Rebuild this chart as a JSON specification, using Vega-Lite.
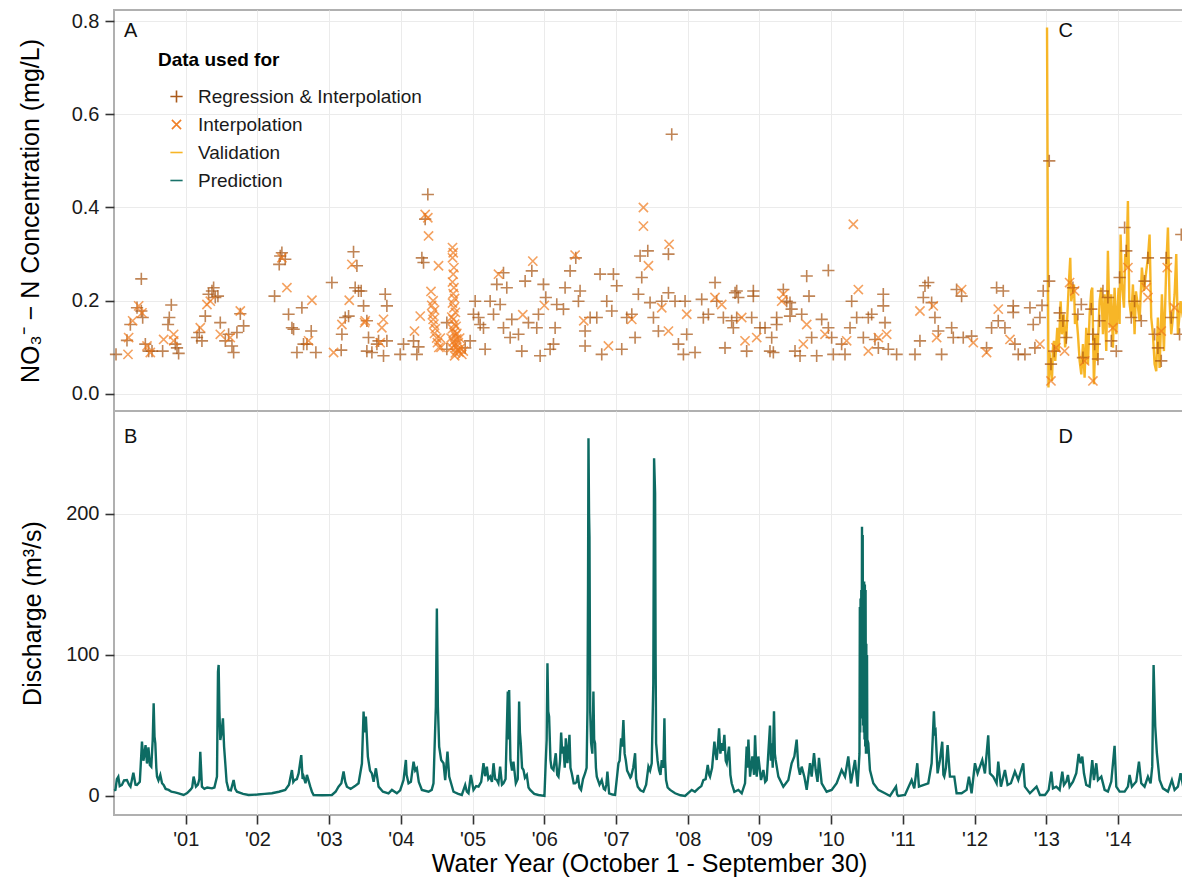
{
  "$schema": "https://vega.github.io/schema/vega-lite/v6.json",
  "padding": {"left": 16, "top": 9, "right": 0, "bottom": 5},
  "background": "white",
  "datasets": {
    "conc": [
      {"t":2000.028,"c":0.085,"k":"RI"},{"t":2000.195,"c":0.085,"k":"I"},{"t":2000.181,"c":0.115,"k":"RI"},{"t":2000.204,"c":0.121,"k":"I"},
      {"t":2000.228,"c":0.149,"k":"RI"},{"t":2000.260,"c":0.157,"k":"I"},{"t":2000.321,"c":0.185,"k":"RI"},{"t":2000.344,"c":0.189,"k":"I"},
      {"t":2000.381,"c":0.178,"k":"RI"},{"t":2000.390,"c":0.174,"k":"I"},{"t":2000.381,"c":0.247,"k":"RI"},{"t":2000.400,"c":0.164,"k":"RI"},
      {"t":2000.437,"c":0.107,"k":"RI"},{"t":2000.460,"c":0.103,"k":"I"},{"t":2000.483,"c":0.092,"k":"RI"},{"t":2000.506,"c":0.089,"k":"I"},
      {"t":2000.530,"c":0.092,"k":"RI"},{"t":2000.678,"c":0.092,"k":"RI"},{"t":2000.692,"c":0.117,"k":"I"},{"t":2000.753,"c":0.149,"k":"RI"},
      {"t":2000.771,"c":0.164,"k":"RI"},{"t":2000.799,"c":0.191,"k":"RI"},{"t":2000.832,"c":0.128,"k":"I"},{"t":2000.855,"c":0.107,"k":"RI"},
      {"t":2000.832,"c":0.114,"k":"I"},{"t":2000.901,"c":0.087,"k":"RI"},{"t":2000.878,"c":0.099,"k":"RI"},
      {"t":2001.157,"c":0.121,"k":"RI"},{"t":2001.189,"c":0.132,"k":"RI"},{"t":2001.203,"c":0.142,"k":"I"},{"t":2001.226,"c":0.114,"k":"RI"},
      {"t":2001.273,"c":0.167,"k":"RI"},{"t":2001.296,"c":0.192,"k":"I"},{"t":2001.319,"c":0.214,"k":"RI"},{"t":2001.366,"c":0.221,"k":"RI"},
      {"t":2001.389,"c":0.228,"k":"RI"},{"t":2001.412,"c":0.207,"k":"RI"},{"t":2001.449,"c":0.210,"k":"RI"},{"t":2001.343,"c":0.199,"k":"I"},
      {"t":2001.482,"c":0.153,"k":"RI"},{"t":2001.482,"c":0.128,"k":"I"},{"t":2001.552,"c":0.114,"k":"RI"},{"t":2001.598,"c":0.128,"k":"RI"},
      {"t":2001.621,"c":0.121,"k":"I"},{"t":2001.645,"c":0.103,"k":"RI"},{"t":2001.668,"c":0.089,"k":"RI"},{"t":2001.714,"c":0.132,"k":"RI"},
      {"t":2001.761,"c":0.172,"k":"RI"},{"t":2001.761,"c":0.178,"k":"I"},{"t":2001.807,"c":0.146,"k":"RI"},
      {"t":2002.239,"c":0.210,"k":"RI"},{"t":2002.318,"c":0.296,"k":"RI"},{"t":2002.341,"c":0.303,"k":"RI"},{"t":2002.388,"c":0.289,"k":"RI"},
      {"t":2002.341,"c":0.292,"k":"I"},{"t":2002.304,"c":0.278,"k":"RI"},{"t":2002.411,"c":0.228,"k":"I"},{"t":2002.434,"c":0.171,"k":"RI"},
      {"t":2002.481,"c":0.142,"k":"RI"},{"t":2002.504,"c":0.139,"k":"RI"},{"t":2002.620,"c":0.185,"k":"RI"},{"t":2002.760,"c":0.201,"k":"I"},
      {"t":2002.551,"c":0.089,"k":"RI"},{"t":2002.643,"c":0.107,"k":"RI"},{"t":2002.690,"c":0.107,"k":"RI"},{"t":2002.750,"c":0.135,"k":"RI"},
      {"t":2002.713,"c":0.114,"k":"I"},{"t":2002.815,"c":0.089,"k":"RI"},
      {"t":2003.038,"c":0.239,"k":"RI"},{"t":2003.062,"c":0.089,"k":"I"},{"t":2003.168,"c":0.094,"k":"RI"},{"t":2003.178,"c":0.128,"k":"RI"},
      {"t":2003.224,"c":0.164,"k":"RI"},{"t":2003.271,"c":0.167,"k":"RI"},{"t":2003.178,"c":0.149,"k":"I"},{"t":2003.280,"c":0.201,"k":"I"},
      {"t":2003.340,"c":0.305,"k":"RI"},{"t":2003.317,"c":0.278,"k":"I"},{"t":2003.387,"c":0.275,"k":"RI"},{"t":2003.363,"c":0.228,"k":"RI"},
      {"t":2003.410,"c":0.221,"k":"RI"},{"t":2003.447,"c":0.221,"k":"RI"},{"t":2003.480,"c":0.189,"k":"RI"},{"t":2003.503,"c":0.157,"k":"I"},
      {"t":2003.526,"c":0.157,"k":"RI"},{"t":2003.494,"c":0.153,"k":"I"},{"t":2003.549,"c":0.121,"k":"RI"},{"t":2003.526,"c":0.092,"k":"RI"},
      {"t":2003.596,"c":0.089,"k":"RI"},{"t":2003.666,"c":0.107,"k":"RI"},{"t":2003.689,"c":0.114,"k":"RI"},{"t":2003.712,"c":0.110,"k":"I"},
      {"t":2003.758,"c":0.082,"k":"RI"},{"t":2003.805,"c":0.114,"k":"RI"},{"t":2003.782,"c":0.214,"k":"RI"},{"t":2003.805,"c":0.189,"k":"RI"},
      {"t":2003.758,"c":0.160,"k":"I"},{"t":2003.735,"c":0.142,"k":"I"},
      {"t":2003.991,"c":0.085,"k":"RI"},{"t":2004.037,"c":0.107,"k":"RI"},{"t":2004.177,"c":0.114,"k":"RI"},{"t":2004.190,"c":0.135,"k":"I"},
      {"t":2004.223,"c":0.085,"k":"RI"},{"t":2004.246,"c":0.101,"k":"RI"},{"t":2004.293,"c":0.292,"k":"RI"},{"t":2004.316,"c":0.282,"k":"RI"},
      {"t":2004.339,"c":0.385,"k":"I"},{"t":2004.339,"c":0.375,"k":"RI"},{"t":2004.376,"c":0.378,"k":"I"},{"t":2004.386,"c":0.339,"k":"I"},
      {"t":2004.376,"c":0.428,"k":"RI"},{"t":2004.270,"c":0.167,"k":"I"},
      {"t":2004.525,"c":0.275,"k":"I"},{"t":2004.641,"c":0.153,"k":"RI"},{"t":2004.641,"c":0.096,"k":"RI"},
      {"t":2004.42,"c":0.22,"k":"I"},{"t":2004.43,"c":0.19,"k":"I"},{"t":2004.44,"c":0.17,"k":"I"},{"t":2004.45,"c":0.16,"k":"I"},
      {"t":2004.46,"c":0.15,"k":"I"},{"t":2004.47,"c":0.13,"k":"I"},{"t":2004.48,"c":0.14,"k":"I"},{"t":2004.50,"c":0.12,"k":"I"},
      {"t":2004.51,"c":0.11,"k":"I"},{"t":2004.53,"c":0.10,"k":"I"},{"t":2004.55,"c":0.12,"k":"I"},{"t":2004.56,"c":0.10,"k":"I"},
      {"t":2004.45,"c":0.20,"k":"I"},{"t":2004.47,"c":0.18,"k":"I"},
      {"t":2004.72,"c":0.314,"k":"I"},{"t":2004.73,"c":0.303,"k":"I"},{"t":2004.72,"c":0.292,"k":"I"},{"t":2004.74,"c":0.271,"k":"I"},
      {"t":2004.73,"c":0.257,"k":"I"},{"t":2004.72,"c":0.240,"k":"I"},{"t":2004.74,"c":0.228,"k":"I"},{"t":2004.73,"c":0.215,"k":"I"},
      {"t":2004.75,"c":0.205,"k":"I"},{"t":2004.72,"c":0.195,"k":"I"},{"t":2004.74,"c":0.185,"k":"I"},{"t":2004.76,"c":0.175,"k":"I"},
      {"t":2004.71,"c":0.165,"k":"I"},{"t":2004.73,"c":0.160,"k":"I"},{"t":2004.75,"c":0.150,"k":"I"},{"t":2004.77,"c":0.145,"k":"I"},
      {"t":2004.72,"c":0.140,"k":"I"},{"t":2004.74,"c":0.132,"k":"I"},{"t":2004.76,"c":0.125,"k":"I"},{"t":2004.78,"c":0.118,"k":"I"},
      {"t":2004.73,"c":0.112,"k":"I"},{"t":2004.75,"c":0.105,"k":"I"},{"t":2004.77,"c":0.100,"k":"I"},{"t":2004.79,"c":0.095,"k":"I"},
      {"t":2004.81,"c":0.090,"k":"I"},{"t":2004.76,"c":0.088,"k":"I"},{"t":2004.83,"c":0.098,"k":"I"},{"t":2004.80,"c":0.110,"k":"I"},
      {"t":2004.82,"c":0.120,"k":"I"},{"t":2004.78,"c":0.130,"k":"I"},{"t":2004.70,"c":0.120,"k":"I"},{"t":2004.71,"c":0.100,"k":"I"},
      {"t":2004.85,"c":0.085,"k":"I"},{"t":2004.87,"c":0.092,"k":"I"},{"t":2004.75,"c":0.082,"k":"I"},
      {"t":2004.897,"c":0.099,"k":"RI"},{"t":2004.966,"c":0.114,"k":"RI"},{"t":2005.036,"c":0.199,"k":"RI"},{"t":2005.013,"c":0.171,"k":"RI"},
      {"t":2005.083,"c":0.164,"k":"RI"},{"t":2005.152,"c":0.142,"k":"RI"},{"t":2005.175,"c":0.096,"k":"RI"},{"t":2005.106,"c":0.149,"k":"RI"},
      {"t":2005.245,"c":0.199,"k":"RI"},{"t":2005.292,"c":0.171,"k":"RI"},{"t":2005.361,"c":0.257,"k":"I"},{"t":2005.431,"c":0.260,"k":"RI"},
      {"t":2005.338,"c":0.235,"k":"RI"},{"t":2005.477,"c":0.228,"k":"RI"},{"t":2005.384,"c":0.192,"k":"RI"},{"t":2005.431,"c":0.142,"k":"RI"},
      {"t":2005.547,"c":0.160,"k":"RI"},{"t":2005.524,"c":0.121,"k":"RI"},{"t":2005.640,"c":0.128,"k":"RI"},{"t":2005.686,"c":0.092,"k":"RI"},
      {"t":2005.733,"c":0.242,"k":"RI"},{"t":2005.779,"c":0.153,"k":"RI"},{"t":2005.826,"c":0.264,"k":"RI"},{"t":2005.840,"c":0.285,"k":"I"},
      {"t":2005.895,"c":0.142,"k":"RI"},{"t":2005.919,"c":0.171,"k":"RI"},{"t":2005.988,"c":0.235,"k":"RI"},{"t":2006.021,"c":0.207,"k":"RI"},
      {"t":2005.942,"c":0.082,"k":"RI"},{"t":2006.081,"c":0.096,"k":"RI"},{"t":2006.128,"c":0.107,"k":"RI"},{"t":2006.151,"c":0.142,"k":"RI"},
      {"t":2006.174,"c":0.192,"k":"RI"},{"t":2006.267,"c":0.182,"k":"RI"},{"t":2006.290,"c":0.228,"k":"RI"},{"t":2006.360,"c":0.264,"k":"RI"},
      {"t":2006.430,"c":0.298,"k":"I"},{"t":2006.439,"c":0.292,"k":"RI"},{"t":2006.499,"c":0.221,"k":"RI"},{"t":2006.476,"c":0.199,"k":"RI"},
      {"t":2006.569,"c":0.135,"k":"RI"},{"t":2006.569,"c":0.103,"k":"RI"},{"t":2006.639,"c":0.164,"k":"RI"},{"t":2006.732,"c":0.164,"k":"RI"},
      {"t":2006.801,"c":0.085,"k":"RI"},{"t":2006.778,"c":0.257,"k":"RI"},{"t":2006.871,"c":0.199,"k":"RI"},{"t":2006.964,"c":0.257,"k":"RI"},
      {"t":2007.010,"c":0.232,"k":"RI"},{"t":2006.941,"c":0.178,"k":"RI"},{"t":2006.894,"c":0.103,"k":"I"},{"t":2007.080,"c":0.096,"k":"RI"},
      {"t":2007.150,"c":0.164,"k":"RI"},{"t":2007.220,"c":0.171,"k":"RI"},{"t":2007.266,"c":0.121,"k":"RI"},{"t":2007.312,"c":0.214,"k":"RI"},
      {"t":2007.359,"c":0.250,"k":"RI"},{"t":2007.336,"c":0.296,"k":"RI"},{"t":2007.443,"c":0.307,"k":"RI"},{"t":2007.382,"c":0.40,"k":"I"},
      {"t":2007.382,"c":0.36,"k":"I"},{"t":2007.452,"c":0.275,"k":"I"},{"t":2007.475,"c":0.196,"k":"RI"},{"t":2007.522,"c":0.164,"k":"RI"},
      {"t":2007.591,"c":0.135,"k":"RI"},{"t":2007.638,"c":0.199,"k":"RI"},{"t":2007.731,"c":0.217,"k":"RI"},{"t":2007.731,"c":0.30,"k":"RI"},
      {"t":2007.740,"c":0.321,"k":"I"},{"t":2007.777,"c":0.557,"k":"RI"},{"t":2007.823,"c":0.199,"k":"RI"},{"t":2007.870,"c":0.107,"k":"RI"},
      {"t":2007.963,"c":0.199,"k":"RI"},{"t":2007.986,"c":0.128,"k":"RI"},{"t":2007.940,"c":0.085,"k":"RI"},{"t":2008.102,"c":0.089,"k":"RI"},
      {"t":2008.195,"c":0.203,"k":"RI"},{"t":2008.218,"c":0.164,"k":"RI"},{"t":2008.381,"c":0.239,"k":"RI"},{"t":2008.404,"c":0.199,"k":"RI"},
      {"t":2008.288,"c":0.171,"k":"RI"},{"t":2008.497,"c":0.164,"k":"RI"},{"t":2008.520,"c":0.099,"k":"RI"},{"t":2008.660,"c":0.217,"k":"RI"},
      {"t":2008.636,"c":0.142,"k":"RI"},{"t":2008.474,"c":0.192,"k":"I"},{"t":2006.55,"c":0.157,"k":"I"},{"t":2007.22,"c":0.160,"k":"I"},
      {"t":2007.638,"c":0.185,"k":"I"},{"t":2007.731,"c":0.135,"k":"I"},{"t":2007.986,"c":0.171,"k":"I"},{"t":2008.38,"c":0.207,"k":"I"},
      {"t":2005.70,"c":0.170,"k":"I"},{"t":2006.00,"c":0.190,"k":"I"},
      {"t":2008.683,"c":0.221,"k":"RI"},{"t":2008.706,"c":0.207,"k":"RI"},{"t":2008.613,"c":0.157,"k":"RI"},{"t":2008.683,"c":0.164,"k":"RI"},
      {"t":2008.753,"c":0.164,"k":"I"},{"t":2008.822,"c":0.092,"k":"RI"},{"t":2008.799,"c":0.114,"k":"I"},{"t":2008.892,"c":0.164,"k":"RI"},
      {"t":2008.915,"c":0.221,"k":"RI"},{"t":2008.915,"c":0.210,"k":"RI"},{"t":2009.008,"c":0.142,"k":"RI"},{"t":2008.962,"c":0.121,"k":"I"},
      {"t":2009.078,"c":0.142,"k":"RI"},{"t":2009.147,"c":0.092,"k":"RI"},{"t":2009.171,"c":0.121,"k":"RI"},{"t":2009.194,"c":0.089,"k":"RI"},
      {"t":2009.240,"c":0.149,"k":"RI"},{"t":2009.240,"c":0.164,"k":"RI"},{"t":2009.333,"c":0.224,"k":"RI"},{"t":2009.333,"c":0.214,"k":"I"},
      {"t":2009.380,"c":0.199,"k":"RI"},{"t":2009.426,"c":0.196,"k":"RI"},{"t":2009.449,"c":0.182,"k":"RI"},{"t":2009.310,"c":0.199,"k":"I"},
      {"t":2009.426,"c":0.167,"k":"RI"},{"t":2009.496,"c":0.092,"k":"RI"},{"t":2009.566,"c":0.082,"k":"RI"},{"t":2009.589,"c":0.171,"k":"RI"},
      {"t":2009.612,"c":0.107,"k":"I"},{"t":2009.659,"c":0.253,"k":"RI"},{"t":2009.691,"c":0.210,"k":"RI"},{"t":2009.659,"c":0.149,"k":"I"},
      {"t":2009.728,"c":0.121,"k":"RI"},{"t":2009.798,"c":0.082,"k":"RI"},{"t":2009.868,"c":0.160,"k":"RI"},{"t":2009.961,"c":0.265,"k":"RI"},
      {"t":2009.961,"c":0.142,"k":"RI"},{"t":2009.914,"c":0.128,"k":"I"},{"t":2010.007,"c":0.121,"k":"RI"},{"t":2010.030,"c":0.085,"k":"RI"},
      {"t":2010.146,"c":0.107,"k":"RI"},{"t":2010.193,"c":0.085,"k":"RI"},{"t":2010.216,"c":0.114,"k":"I"},{"t":2010.263,"c":0.142,"k":"RI"},
      {"t":2010.309,"c":0.364,"k":"I"},{"t":2010.286,"c":0.199,"k":"RI"},{"t":2010.379,"c":0.224,"k":"I"},{"t":2010.356,"c":0.164,"k":"RI"},
      {"t":2010.449,"c":0.121,"k":"RI"},{"t":2010.518,"c":0.164,"k":"RI"},{"t":2010.518,"c":0.092,"k":"I"},{"t":2010.565,"c":0.171,"k":"RI"},
      {"t":2010.611,"c":0.117,"k":"RI"},{"t":2010.658,"c":0.099,"k":"RI"},{"t":2010.658,"c":0.121,"k":"I"},{"t":2010.727,"c":0.214,"k":"RI"},
      {"t":2010.727,"c":0.189,"k":"RI"},{"t":2010.751,"c":0.153,"k":"RI"},{"t":2010.774,"c":0.128,"k":"I"},{"t":2010.797,"c":0.096,"k":"RI"},
      {"t":2010.913,"c":0.085,"k":"RI"},{"t":2011.169,"c":0.085,"k":"RI"},{"t":2011.238,"c":0.114,"k":"RI"},{"t":2011.238,"c":0.178,"k":"I"},
      {"t":2011.308,"c":0.232,"k":"RI"},{"t":2011.354,"c":0.239,"k":"RI"},{"t":2011.285,"c":0.207,"k":"RI"},{"t":2011.401,"c":0.196,"k":"RI"},
      {"t":2011.424,"c":0.189,"k":"I"},{"t":2011.447,"c":0.164,"k":"RI"},{"t":2011.494,"c":0.135,"k":"RI"},{"t":2011.471,"c":0.121,"k":"I"},
      {"t":2011.540,"c":0.085,"k":"RI"},{"t":2011.680,"c":0.142,"k":"RI"},{"t":2011.703,"c":0.121,"k":"RI"},{"t":2011.749,"c":0.224,"k":"RI"},
      {"t":2011.819,"c":0.224,"k":"I"},{"t":2011.819,"c":0.210,"k":"RI"},{"t":2011.842,"c":0.121,"k":"RI"},{"t":2011.958,"c":0.124,"k":"RI"},
      {"t":2011.982,"c":0.110,"k":"I"},{"t":2012.167,"c":0.099,"k":"RI"},{"t":2012.167,"c":0.089,"k":"I"},{"t":2012.307,"c":0.228,"k":"RI"},
      {"t":2012.400,"c":0.221,"k":"RI"},{"t":2012.330,"c":0.182,"k":"I"},{"t":2012.237,"c":0.142,"k":"RI"},{"t":2012.330,"c":0.157,"k":"RI"},
      {"t":2012.423,"c":0.142,"k":"RI"},{"t":2012.539,"c":0.189,"k":"RI"},{"t":2012.539,"c":0.175,"k":"RI"},{"t":2012.493,"c":0.117,"k":"I"},
      {"t":2012.562,"c":0.107,"k":"RI"},{"t":2012.609,"c":0.085,"k":"RI"},{"t":2012.702,"c":0.085,"k":"RI"},{"t":2012.772,"c":0.185,"k":"RI"},
      {"t":2012.818,"c":0.149,"k":"RI"},{"t":2012.911,"c":0.164,"k":"RI"},{"t":2012.841,"c":0.099,"k":"RI"},{"t":2012.911,"c":0.107,"k":"I"},
      {"t":2012.957,"c":0.221,"k":"RI"},{"t":2012.94,"c":0.190,"k":"RI"},
      {"t":2013.010,"c":0.786,"k":"V"},{"t":2013.030,"c":0.014,"k":"V"},{"t":2013.045,"c":0.090,"k":"V"},{"t":2013.060,"c":0.056,"k":"V"},
      {"t":2013.079,"c":0.028,"k":"V"},{"t":2013.093,"c":0.100,"k":"V"},{"t":2013.107,"c":0.114,"k":"V"},{"t":2013.125,"c":0.071,"k":"V"},
      {"t":2013.153,"c":0.142,"k":"V"},{"t":2013.172,"c":0.092,"k":"V"},{"t":2013.200,"c":0.199,"k":"V"},{"t":2013.218,"c":0.128,"k":"V"},
      {"t":2013.246,"c":0.171,"k":"V"},{"t":2013.262,"c":0.100,"k":"V"},{"t":2013.279,"c":0.121,"k":"V"},{"t":2013.311,"c":0.228,"k":"V"},
      {"t":2013.334,"c":0.292,"k":"V"},{"t":2013.348,"c":0.199,"k":"V"},{"t":2013.386,"c":0.235,"k":"V"},{"t":2013.400,"c":0.150,"k":"V"},
      {"t":2013.418,"c":0.171,"k":"V"},{"t":2013.441,"c":0.128,"k":"V"},{"t":2013.465,"c":0.071,"k":"V"},{"t":2013.488,"c":0.042,"k":"V"},
      {"t":2013.511,"c":0.107,"k":"V"},{"t":2013.534,"c":0.035,"k":"V"},{"t":2013.557,"c":0.142,"k":"V"},{"t":2013.581,"c":0.064,"k":"V"},
      {"t":2013.604,"c":0.171,"k":"V"},{"t":2013.627,"c":0.221,"k":"V"},{"t":2013.641,"c":0.228,"k":"V"},{"t":2013.664,"c":0.021,"k":"V"},
      {"t":2013.688,"c":0.128,"k":"V"},{"t":2013.711,"c":0.071,"k":"V"},{"t":2013.743,"c":0.199,"k":"V"},{"t":2013.767,"c":0.228,"k":"V"},
      {"t":2013.790,"c":0.128,"k":"V"},{"t":2013.813,"c":0.214,"k":"V"},{"t":2013.836,"c":0.092,"k":"V"},{"t":2013.859,"c":0.307,"k":"V"},
      {"t":2013.883,"c":0.142,"k":"V"},{"t":2013.906,"c":0.214,"k":"V"},{"t":2013.929,"c":0.099,"k":"V"},{"t":2013.952,"c":0.228,"k":"V"},
      {"t":2013.976,"c":0.128,"k":"V"},{"t":2014.008,"c":0.228,"k":"V"},{"t":2014.022,"c":0.150,"k":"V"},{"t":2014.036,"c":0.342,"k":"V"},
      {"t":2014.055,"c":0.235,"k":"V"},{"t":2014.083,"c":0.185,"k":"V"},{"t":2014.100,"c":0.300,"k":"V"},{"t":2014.115,"c":0.271,"k":"V"},
      {"t":2014.138,"c":0.414,"k":"V"},{"t":2014.157,"c":0.199,"k":"V"},{"t":2014.185,"c":0.164,"k":"V"},{"t":2014.208,"c":0.235,"k":"V"},
      {"t":2014.231,"c":0.128,"k":"V"},{"t":2014.250,"c":0.220,"k":"V"},{"t":2014.268,"c":0.199,"k":"V"},{"t":2014.301,"c":0.157,"k":"V"},
      {"t":2014.333,"c":0.271,"k":"V"},{"t":2014.361,"c":0.221,"k":"V"},{"t":2014.394,"c":0.264,"k":"V"},{"t":2014.417,"c":0.292,"k":"V"},
      {"t":2014.440,"c":0.342,"k":"V"},{"t":2014.463,"c":0.164,"k":"V"},{"t":2014.487,"c":0.128,"k":"V"},{"t":2014.510,"c":0.064,"k":"V"},
      {"t":2014.533,"c":0.049,"k":"V"},{"t":2014.556,"c":0.164,"k":"V"},{"t":2014.580,"c":0.056,"k":"V"},{"t":2014.612,"c":0.214,"k":"V"},
      {"t":2014.640,"c":0.092,"k":"V"},{"t":2014.672,"c":0.271,"k":"V"},{"t":2014.696,"c":0.357,"k":"V"},{"t":2014.719,"c":0.199,"k":"V"},
      {"t":2014.742,"c":0.128,"k":"V"},{"t":2014.765,"c":0.164,"k":"V"},{"t":2014.789,"c":0.214,"k":"V"},{"t":2014.812,"c":0.300,"k":"V"},
      {"t":2014.835,"c":0.128,"k":"V"},{"t":2014.872,"c":0.199,"k":"V"},{"t":2014.905,"c":0.164,"k":"V"},
      {"t":2013.041,"c":0.50,"k":"RI"},{"t":2013.041,"c":0.242,"k":"RI"},{"t":2013.065,"c":0.064,"k":"RI"},{"t":2013.065,"c":0.028,"k":"I"},
      {"t":2013.111,"c":0.092,"k":"RI"},{"t":2013.135,"c":0.099,"k":"I"},{"t":2013.186,"c":0.174,"k":"RI"},{"t":2013.232,"c":0.157,"k":"RI"},
      {"t":2013.255,"c":0.092,"k":"I"},{"t":2013.279,"c":0.121,"k":"RI"},{"t":2013.325,"c":0.239,"k":"I"},{"t":2013.371,"c":0.228,"k":"RI"},
      {"t":2013.441,"c":0.171,"k":"RI"},{"t":2013.395,"c":0.221,"k":"I"},{"t":2013.488,"c":0.192,"k":"RI"},{"t":2013.511,"c":0.078,"k":"RI"},
      {"t":2013.534,"c":0.071,"k":"I"},{"t":2013.627,"c":0.182,"k":"RI"},{"t":2013.650,"c":0.128,"k":"RI"},{"t":2013.674,"c":0.107,"k":"RI"},
      {"t":2013.720,"c":0.075,"k":"RI"},{"t":2013.650,"c":0.028,"k":"I"},{"t":2013.743,"c":0.157,"k":"RI"},{"t":2013.790,"c":0.221,"k":"RI"},
      {"t":2013.859,"c":0.207,"k":"RI"},{"t":2013.906,"c":0.114,"k":"RI"},{"t":2013.929,"c":0.142,"k":"I"},{"t":2013.976,"c":0.092,"k":"RI"},
      {"t":2014.022,"c":0.250,"k":"RI"},{"t":2014.092,"c":0.357,"k":"RI"},{"t":2014.115,"c":0.307,"k":"RI"},{"t":2014.138,"c":0.271,"k":"I"},
      {"t":2014.185,"c":0.164,"k":"RI"},{"t":2014.231,"c":0.199,"k":"RI"},{"t":2014.324,"c":0.157,"k":"RI"},{"t":2014.370,"c":0.242,"k":"RI"},
      {"t":2014.417,"c":0.292,"k":"RI"},{"t":2014.394,"c":0.228,"k":"I"},{"t":2014.417,"c":0.207,"k":"I"},{"t":2014.510,"c":0.128,"k":"RI"},
      {"t":2014.556,"c":0.099,"k":"RI"},{"t":2014.603,"c":0.071,"k":"RI"},{"t":2014.603,"c":0.135,"k":"I"},{"t":2014.672,"c":0.292,"k":"RI"},
      {"t":2014.686,"c":0.271,"k":"I"},{"t":2014.742,"c":0.164,"k":"RI"},{"t":2014.789,"c":0.185,"k":"I"},{"t":2014.858,"c":0.128,"k":"RI"},
      {"t":2014.882,"c":0.342,"k":"RI"}
    ],
    "flow": [
      {"t":2000.00,"q":4},{"t":2000.02,"q":4.3},{"t":2000.04,"q":12},{"t":2000.06,"q":13.7},{"t":2000.08,"q":7},{"t":2000.11,"q":7.8},
      {"t":2000.14,"q":11},{"t":2000.18,"q":11.3},{"t":2000.21,"q":8},{"t":2000.23,"q":6.6},{"t":2000.27,"q":16.5},{"t":2000.30,"q":8},
      {"t":2000.32,"q":7.8},{"t":2000.36,"q":10},{"t":2000.39,"q":38.5},{"t":2000.41,"q":25},{"t":2000.42,"q":27.9},{"t":2000.44,"q":36},
      {"t":2000.46,"q":23},{"t":2000.48,"q":34.5},{"t":2000.50,"q":22},{"t":2000.52,"q":20.8},{"t":2000.54,"q":40},{"t":2000.553,"q":65.7},
      {"t":2000.565,"q":42},{"t":2000.576,"q":37.4},{"t":2000.59,"q":20},{"t":2000.60,"q":13.7},{"t":2000.62,"q":11},{"t":2000.646,"q":14.9},
      {"t":2000.67,"q":9},{"t":2000.692,"q":7.8},{"t":2000.72,"q":5},{"t":2000.762,"q":4.3},{"t":2000.80,"q":3},{"t":2000.85,"q":2.5},
      {"t":2000.901,"q":1.9},{"t":2000.971,"q":0.7},{"t":2001.02,"q":2},{"t":2001.064,"q":4.3},{"t":2001.09,"q":6},{"t":2001.11,"q":13.7},
      {"t":2001.143,"q":6.6},{"t":2001.17,"q":8},{"t":2001.19,"q":12},{"t":2001.203,"q":31.4},{"t":2001.226,"q":6.6},{"t":2001.26,"q":5},
      {"t":2001.30,"q":6},{"t":2001.366,"q":5.4},{"t":2001.40,"q":6},{"t":2001.436,"q":13.7},{"t":2001.45,"q":88},{"t":2001.459,"q":92.9},
      {"t":2001.47,"q":60},{"t":2001.482,"q":39.7},{"t":2001.50,"q":45},{"t":2001.519,"q":55},{"t":2001.535,"q":35},{"t":2001.552,"q":23},
      {"t":2001.57,"q":10},{"t":2001.598,"q":4.3},{"t":2001.63,"q":4},{"t":2001.668,"q":11.3},{"t":2001.69,"q":5},{"t":2001.714,"q":3},
      {"t":2001.80,"q":1.5},{"t":2001.877,"q":0.7},{"t":2002.00,"q":1.0},{"t":2002.10,"q":1.5},{"t":2002.202,"q":1.9},{"t":2002.30,"q":3},
      {"t":2002.388,"q":4.3},{"t":2002.44,"q":8},{"t":2002.481,"q":18.4},{"t":2002.50,"q":10},{"t":2002.518,"q":11.3},{"t":2002.55,"q":12},
      {"t":2002.574,"q":16},{"t":2002.611,"q":29},{"t":2002.63,"q":12},{"t":2002.644,"q":13.7},{"t":2002.67,"q":9},{"t":2002.69,"q":14.9},
      {"t":2002.737,"q":6.6},{"t":2002.76,"q":3},{"t":2002.783,"q":0.7},{"t":2002.90,"q":0.5},{"t":2003.038,"q":0.7},{"t":2003.09,"q":3},
      {"t":2003.131,"q":6.6},{"t":2003.17,"q":9},{"t":2003.201,"q":17.3},{"t":2003.225,"q":10},{"t":2003.248,"q":6.6},{"t":2003.30,"q":5},
      {"t":2003.36,"q":7},{"t":2003.41,"q":9},{"t":2003.457,"q":23},{"t":2003.48,"q":59.8},{"t":2003.495,"q":45},{"t":2003.512,"q":56.3},
      {"t":2003.54,"q":27.9},{"t":2003.57,"q":18},{"t":2003.596,"q":16},{"t":2003.62,"q":10},{"t":2003.652,"q":19.6},{"t":2003.689,"q":6.6},
      {"t":2003.75,"q":3},{"t":2003.828,"q":1.9},{"t":2003.875,"q":4.3},{"t":2003.944,"q":1.9},{"t":2003.99,"q":4},{"t":2004.037,"q":11.3},
      {"t":2004.07,"q":25.5},{"t":2004.08,"q":15},{"t":2004.107,"q":9},{"t":2004.14,"q":10},{"t":2004.177,"q":24.3},{"t":2004.20,"q":18},
      {"t":2004.223,"q":19.6},{"t":2004.25,"q":10},{"t":2004.293,"q":4.3},{"t":2004.386,"q":3},{"t":2004.43,"q":4.3},{"t":2004.455,"q":9},
      {"t":2004.488,"q":63.4},{"t":2004.502,"q":133},{"t":2004.516,"q":63.4},{"t":2004.534,"q":35},{"t":2004.562,"q":25.5},{"t":2004.595,"q":23.2},
      {"t":2004.618,"q":11.3},{"t":2004.650,"q":31.4},{"t":2004.674,"q":13.7},{"t":2004.734,"q":3},{"t":2004.80,"q":1.5},{"t":2004.850,"q":0.7},
      {"t":2004.897,"q":7.8},{"t":2004.92,"q":3},{"t":2004.943,"q":1.9},{"t":2004.976,"q":14.9},{"t":2005.013,"q":4.3},{"t":2005.05,"q":7},
      {"t":2005.083,"q":6.6},{"t":2005.12,"q":10},{"t":2005.152,"q":23.2},{"t":2005.175,"q":14},{"t":2005.199,"q":20.8},{"t":2005.22,"q":12},
      {"t":2005.245,"q":13.7},{"t":2005.27,"q":10},{"t":2005.292,"q":23.2},{"t":2005.315,"q":12},{"t":2005.338,"q":11.3},{"t":2005.36,"q":9},
      {"t":2005.384,"q":20.8},{"t":2005.41,"q":8},{"t":2005.431,"q":9},{"t":2005.46,"q":12},{"t":2005.491,"q":74},{"t":2005.50,"q":40},
      {"t":2005.510,"q":75.2},{"t":2005.528,"q":25.5},{"t":2005.550,"q":18},{"t":2005.570,"q":24.3},{"t":2005.603,"q":9},{"t":2005.63,"q":12},
      {"t":2005.649,"q":66.9},{"t":2005.66,"q":45},{"t":2005.672,"q":37.4},{"t":2005.690,"q":20},{"t":2005.710,"q":18.4},{"t":2005.73,"q":13},
      {"t":2005.756,"q":14.9},{"t":2005.78,"q":6},{"t":2005.803,"q":4.3},{"t":2005.86,"q":1.5},{"t":2005.919,"q":0.7},{"t":2006.002,"q":0},
      {"t":2006.021,"q":25.5},{"t":2006.033,"q":40},{"t":2006.044,"q":94.1},{"t":2006.055,"q":60},{"t":2006.067,"q":56.3},{"t":2006.086,"q":25.5},
      {"t":2006.10,"q":20},{"t":2006.128,"q":18.4},{"t":2006.145,"q":25},{"t":2006.160,"q":30.3},{"t":2006.18,"q":15},{"t":2006.198,"q":13.7},
      {"t":2006.22,"q":25},{"t":2006.235,"q":44.9},{"t":2006.25,"q":30},{"t":2006.267,"q":35},{"t":2006.285,"q":20},{"t":2006.300,"q":40.9},
      {"t":2006.323,"q":23.2},{"t":2006.351,"q":43.3},{"t":2006.365,"q":20},{"t":2006.383,"q":16.1},{"t":2006.41,"q":9},{"t":2006.430,"q":9},
      {"t":2006.450,"q":10},{"t":2006.467,"q":14.9},{"t":2006.49,"q":6},{"t":2006.513,"q":4.3},{"t":2006.54,"q":12},{"t":2006.569,"q":16.1},
      {"t":2006.59,"q":20},{"t":2006.602,"q":61},{"t":2006.610,"q":150},{"t":2006.616,"q":253.7},{"t":2006.624,"q":200},{"t":2006.630,"q":184},
      {"t":2006.640,"q":60},{"t":2006.653,"q":37.4},{"t":2006.670,"q":30},{"t":2006.685,"q":74},{"t":2006.695,"q":40},{"t":2006.708,"q":37.4},
      {"t":2006.720,"q":20},{"t":2006.732,"q":13.7},{"t":2006.77,"q":8},{"t":2006.801,"q":11.3},{"t":2006.83,"q":5},{"t":2006.848,"q":4.3},
      {"t":2006.865,"q":8},{"t":2006.880,"q":17.3},{"t":2006.904,"q":1.9},{"t":2006.95,"q":1},{"t":2006.987,"q":0.7},{"t":2007.034,"q":23.2},
      {"t":2007.05,"q":25},{"t":2007.071,"q":40.9},{"t":2007.085,"q":35},{"t":2007.103,"q":53.9},{"t":2007.12,"q":30},{"t":2007.136,"q":25.5},
      {"t":2007.155,"q":18},{"t":2007.173,"q":16.1},{"t":2007.20,"q":13},{"t":2007.210,"q":13.7},{"t":2007.24,"q":20},{"t":2007.266,"q":30.3},
      {"t":2007.28,"q":12},{"t":2007.303,"q":6.6},{"t":2007.34,"q":4},{"t":2007.382,"q":3},{"t":2007.42,"q":8},{"t":2007.452,"q":20.8},
      {"t":2007.475,"q":18},{"t":2007.498,"q":23.2},{"t":2007.52,"q":80},{"t":2007.531,"q":239.5},{"t":2007.545,"q":214.7},{"t":2007.552,"q":100},
      {"t":2007.559,"q":37.4},{"t":2007.58,"q":25},{"t":2007.600,"q":18.4},{"t":2007.62,"q":15},{"t":2007.638,"q":25.5},{"t":2007.66,"q":20},
      {"t":2007.675,"q":55.1},{"t":2007.685,"q":25},{"t":2007.698,"q":11.3},{"t":2007.72,"q":6},{"t":2007.754,"q":4.3},{"t":2007.824,"q":1.9},
      {"t":2007.90,"q":0.5},{"t":2007.963,"q":0},{"t":2008.056,"q":4.3},{"t":2008.10,"q":3},{"t":2008.149,"q":5.4},{"t":2008.19,"q":7},
      {"t":2008.218,"q":11.3},{"t":2008.25,"q":12},{"t":2008.279,"q":22},{"t":2008.30,"q":15},{"t":2008.311,"q":13.7},{"t":2008.34,"q":20},
      {"t":2008.372,"q":38.5},{"t":2008.39,"q":30},{"t":2008.404,"q":25.5},{"t":2008.42,"q":35},{"t":2008.437,"q":48},{"t":2008.455,"q":30},
      {"t":2008.474,"q":37.4},{"t":2008.49,"q":32},{"t":2008.511,"q":43.3},{"t":2008.53,"q":25},{"t":2008.544,"q":23.2},{"t":2008.576,"q":35},
      {"t":2008.595,"q":15},{"t":2008.613,"q":9},{"t":2008.65,"q":3},{"t":2008.706,"q":4.3},{"t":2008.753,"q":1.9},{"t":2008.799,"q":9},
      {"t":2008.822,"q":35},{"t":2008.834,"q":20},{"t":2008.846,"q":40},{"t":2008.869,"q":13.7},{"t":2008.901,"q":28},{"t":2008.925,"q":15},
      {"t":2008.939,"q":43},{"t":2008.962,"q":13.7},{"t":2008.985,"q":28},{"t":2009.022,"q":11.3},{"t":2009.055,"q":18.4},{"t":2009.080,"q":10},
      {"t":2009.101,"q":11.3},{"t":2009.147,"q":50},{"t":2009.160,"q":25},{"t":2009.171,"q":37.4},{"t":2009.185,"q":20},{"t":2009.203,"q":60},
      {"t":2009.215,"q":30},{"t":2009.226,"q":25.5},{"t":2009.264,"q":13.7},{"t":2009.333,"q":6.6},{"t":2009.403,"q":11.3},{"t":2009.449,"q":23.2},
      {"t":2009.487,"q":28},{"t":2009.519,"q":40},{"t":2009.542,"q":20.8},{"t":2009.565,"q":15},{"t":2009.589,"q":20.8},{"t":2009.626,"q":13.7},
      {"t":2009.659,"q":4.3},{"t":2009.705,"q":23.2},{"t":2009.728,"q":13.7},{"t":2009.761,"q":30.3},{"t":2009.784,"q":18.4},{"t":2009.810,"q":10},
      {"t":2009.830,"q":27},{"t":2009.868,"q":9},{"t":2009.937,"q":3},{"t":2010.007,"q":4.3},{"t":2010.077,"q":9},{"t":2010.146,"q":18.4},
      {"t":2010.193,"q":13.7},{"t":2010.239,"q":28},{"t":2010.276,"q":9},{"t":2010.332,"q":25.5},{"t":2010.369,"q":6.6},{"t":2010.395,"q":30},
      {"t":2010.400,"q":134},{"t":2010.405,"q":45},{"t":2010.410,"q":140},{"t":2010.415,"q":55},{"t":2010.420,"q":146},{"t":2010.425,"q":70},
      {"t":2010.430,"q":191},{"t":2010.435,"q":60},{"t":2010.440,"q":185},{"t":2010.445,"q":50},{"t":2010.450,"q":150},{"t":2010.455,"q":45},
      {"t":2010.460,"q":152},{"t":2010.465,"q":40},{"t":2010.470,"q":150},{"t":2010.475,"q":35},{"t":2010.480,"q":146},{"t":2010.485,"q":30},
      {"t":2010.490,"q":108},{"t":2010.495,"q":30},{"t":2010.500,"q":100},{"t":2010.504,"q":40},{"t":2010.518,"q":37.4},{"t":2010.541,"q":18.4},
      {"t":2010.588,"q":9},{"t":2010.657,"q":4.3},{"t":2010.750,"q":1.9},{"t":2010.820,"q":0},{"t":2010.904,"q":6.6},{"t":2010.920,"q":1},
      {"t":2010.936,"q":0},{"t":2011.029,"q":0.7},{"t":2011.122,"q":11.3},{"t":2011.159,"q":5.4},{"t":2011.201,"q":23.2},{"t":2011.224,"q":6.6},
      {"t":2011.354,"q":9},{"t":2011.401,"q":23.2},{"t":2011.433,"q":60},{"t":2011.445,"q":45},{"t":2011.456,"q":46},{"t":2011.484,"q":16},
      {"t":2011.517,"q":25.5},{"t":2011.549,"q":38.5},{"t":2011.565,"q":15},{"t":2011.577,"q":13.7},{"t":2011.600,"q":20},{"t":2011.624,"q":36},
      {"t":2011.656,"q":13.7},{"t":2011.717,"q":13.7},{"t":2011.749,"q":1.9},{"t":2011.819,"q":1.9},{"t":2011.889,"q":4.3},{"t":2011.921,"q":13.7},
      {"t":2011.958,"q":1.9},{"t":2012.005,"q":23.2},{"t":2012.042,"q":16},{"t":2012.074,"q":20.8},{"t":2012.107,"q":25.5},{"t":2012.144,"q":16},
      {"t":2012.190,"q":43},{"t":2012.214,"q":16},{"t":2012.260,"q":13.7},{"t":2012.307,"q":9},{"t":2012.330,"q":24.3},{"t":2012.367,"q":6.6},
      {"t":2012.423,"q":18.4},{"t":2012.460,"q":7.8},{"t":2012.506,"q":9},{"t":2012.562,"q":17.3},{"t":2012.609,"q":11.3},{"t":2012.678,"q":23.2},
      {"t":2012.701,"q":6.6},{"t":2012.771,"q":1.9},{"t":2012.864,"q":6.6},{"t":2012.911,"q":0.7},{"t":2012.980,"q":0.7},
      {"t":2013.000,"q":1.9},{"t":2013.033,"q":4.3},{"t":2013.070,"q":17.3},{"t":2013.093,"q":5.4},{"t":2013.139,"q":6.6},{"t":2013.186,"q":4.3},
      {"t":2013.223,"q":17.3},{"t":2013.246,"q":7.8},{"t":2013.279,"q":10.2},{"t":2013.302,"q":14.9},{"t":2013.325,"q":6.6},{"t":2013.372,"q":10.2},
      {"t":2013.418,"q":16.1},{"t":2013.451,"q":29.8},{"t":2013.478,"q":23.2},{"t":2013.502,"q":27.9},{"t":2013.525,"q":16.1},{"t":2013.557,"q":7.8},
      {"t":2013.604,"q":6.6},{"t":2013.641,"q":25.5},{"t":2013.664,"q":11.3},{"t":2013.697,"q":23.2},{"t":2013.720,"q":11.3},{"t":2013.767,"q":13.7},
      {"t":2013.813,"q":4.3},{"t":2013.859,"q":3.1},{"t":2013.906,"q":10.2},{"t":2013.952,"q":35.5},{"t":2013.976,"q":6.6},{"t":2014.022,"q":3.1},
      {"t":2014.092,"q":3.1},{"t":2014.138,"q":6.6},{"t":2014.161,"q":14.9},{"t":2014.194,"q":6.6},{"t":2014.254,"q":10.2},{"t":2014.292,"q":24.3},
      {"t":2014.324,"q":9},{"t":2014.370,"q":6.6},{"t":2014.417,"q":13.7},{"t":2014.454,"q":9},{"t":2014.477,"q":20.8},{"t":2014.496,"q":92.9},
      {"t":2014.519,"q":49.2},{"t":2014.542,"q":30.3},{"t":2014.580,"q":11.3},{"t":2014.626,"q":5.4},{"t":2014.696,"q":3.1},{"t":2014.751,"q":11.3},
      {"t":2014.789,"q":4.3},{"t":2014.835,"q":6.6},{"t":2014.872,"q":16.1},{"t":2014.909,"q":6.6},{"t":2014.92,"q":8}
    ],
    "labsTop": [{"t":2000.14,"c":0.7785,"lab":"A"},{"t":2013.17,"c":0.7785,"lab":"C"}],
    "labsBot": [{"t":2000.14,"q":254.6,"lab":"B"},{"t":2013.17,"q":254.6,"lab":"D"}]
  },
  "vconcat": [
    {
      "width": 1070,
      "height": 401,
      "layer": [
        {
          "data": {"name": "conc"},
          "transform": [{"filter": "datum.k == 'V'"}],
          "mark": {"type": "line", "strokeWidth": 2.4, "opacity": 0.95},
          "encoding": {
            "x": {"field": "t", "type": "quantitative", "scale": {"domain": [2000, 2014.92], "nice": false, "zero": false},
                  "axis": {"values": [2001,2002,2003,2004,2005,2006,2007,2008,2009,2010,2011,2012,2013,2014], "labels": false, "ticks": false, "domain": false, "title": null, "grid": true}},
            "y": {"field": "c", "type": "quantitative", "scale": {"domain": [-0.0365, 0.8236], "nice": false, "zero": false},
                  "axis": {"values": [0, 0.2, 0.4, 0.6, 0.8], "format": ".1f", "title": "NO₃⁻ − N Concentration (mg/L)", "titleX": -84, "titleBaseline": "middle"}},
            "color": {"field": "k", "type": "nominal", "title": "Data used for",
                      "scale": {"domain": ["RI", "I", "V", "P"], "range": ["#a6520f", "#f07a1c", "#f7b21b", "#0d6b63"]}}
          }
        },
        {
          "data": {"name": "conc"},
          "transform": [{"filter": "datum.k == 'RI'"}],
          "mark": {"type": "point", "filled": false, "strokeWidth": 1.6, "size": 150},
          "encoding": {
            "x": {"field": "t", "type": "quantitative"},
            "y": {"field": "c", "type": "quantitative"},
            "color": {"field": "k", "type": "nominal", "title": "Data used for",
                      "legend": {"labelExpr": "datum.label == 'RI' ? 'Regression & Interpolation' : datum.label == 'I' ? 'Interpolation' : datum.label == 'V' ? 'Validation' : 'Prediction'",
                                 "titleFontSize": 19, "labelFontSize": 19, "labelLimit": 0}},
            "shape": {"field": "k", "type": "nominal", "title": "Data used for",
                      "scale": {"domain": ["RI", "I", "V", "P"], "range": ["M-1,0L1,0M0,-1L0,1", "M-0.75,-0.75L0.75,0.75M-0.75,0.75L0.75,-0.75", "stroke", "stroke"]},
                      "legend": {"labelExpr": "datum.label == 'RI' ? 'Regression & Interpolation' : datum.label == 'I' ? 'Interpolation' : datum.label == 'V' ? 'Validation' : 'Prediction'",
                                 "titleFontSize": 19, "labelFontSize": 19, "labelLimit": 0}}
          }
        },
        {
          "data": {"name": "conc"},
          "transform": [{"filter": "datum.k == 'I'"}],
          "mark": {"type": "point", "filled": false, "strokeWidth": 1.6, "size": 150},
          "encoding": {
            "x": {"field": "t", "type": "quantitative"},
            "y": {"field": "c", "type": "quantitative"},
            "color": {"field": "k", "type": "nominal", "title": "Data used for"},
            "shape": {"field": "k", "type": "nominal", "title": "Data used for"}
          }
        },
        {
          "mark": {"type": "rule", "color": "#b0b0b0", "strokeWidth": 2},
          "encoding": {"x": {"datum": 2013}}
        },
        {
          "data": {"name": "labsTop"},
          "mark": {"type": "text", "align": "left", "baseline": "middle", "fontSize": 20, "font": "Liberation Sans", "color": "#111111"},
          "encoding": {
            "x": {"field": "t", "type": "quantitative"},
            "y": {"field": "c", "type": "quantitative"},
            "text": {"field": "lab"}
          }
        }
      ]
    },
    {
      "width": 1070,
      "height": 404,
      "layer": [
        {
          "data": {"name": "flow"},
          "mark": {"type": "line", "color": "#0d6b63", "strokeWidth": 2.4},
          "encoding": {
            "x": {"field": "t", "type": "quantitative", "scale": {"domain": [2000, 2014.92], "nice": false, "zero": false},
                  "axis": {"values": [2001,2002,2003,2004,2005,2006,2007,2008,2009,2010,2011,2012,2013,2014],
                           "labelExpr": "\"'\" + slice(toString(datum.value), 2)",
                           "title": "Water Year (October 1 - September 30)", "grid": true, "labelPadding": 5, "titlePadding": 2}},
            "y": {"field": "q", "type": "quantitative", "scale": {"domain": [-13.5, 273], "nice": false, "zero": false},
                  "axis": {"values": [0, 100, 200], "title": "Discharge (m³/s)", "titleX": -82, "titleBaseline": "middle"}}
          }
        },
        {
          "mark": {"type": "rule", "color": "#b0b0b0", "strokeWidth": 2},
          "encoding": {"x": {"datum": 2013}}
        },
        {
          "data": {"name": "labsBot"},
          "mark": {"type": "text", "align": "left", "baseline": "middle", "fontSize": 20, "font": "Liberation Sans", "color": "#111111"},
          "encoding": {
            "x": {"field": "t", "type": "quantitative"},
            "y": {"field": "q", "type": "quantitative"},
            "text": {"field": "lab"}
          }
        }
      ]
    }
  ],
  "spacing": 0,
  "bounds": "flush",
  "resolve": {"scale": {"color": "independent", "shape": "independent"}, "legend": {"color": "independent", "shape": "independent"}},
  "config": {
    "font": "Liberation Sans",
    "view": {"stroke": "#b0b0b0", "strokeWidth": 2},
    "axis": {
      "labelFont": "Liberation Sans", "titleFont": "Liberation Sans",
      "labelFontSize": 20, "labelColor": "#1a1a1a",
      "titleFontSize": 25, "titleFontWeight": "normal", "titleColor": "#000000",
      "tickColor": "#333333", "tickWidth": 1.6, "tickSize": 9, "labelPadding": 6,
      "domain": false, "gridColor": "#ebebeb", "gridWidth": 1
    },
    "legend": {
      "orient": "none", "legendX": 44, "legendY": 41,
      "labelFont": "Liberation Sans", "titleFont": "Liberation Sans",
      "titleFontSize": 19, "titleFontWeight": "bold", "titleColor": "#000000", "titlePadding": 17,
      "labelFontSize": 19, "labelColor": "#1a1a1a", "labelOffset": 12, "symbolOffset": 9, "labelLimit": 0,
      "symbolStrokeWidth": 1.6, "symbolSize": 150, "rowPadding": 8
    }
  }
}
